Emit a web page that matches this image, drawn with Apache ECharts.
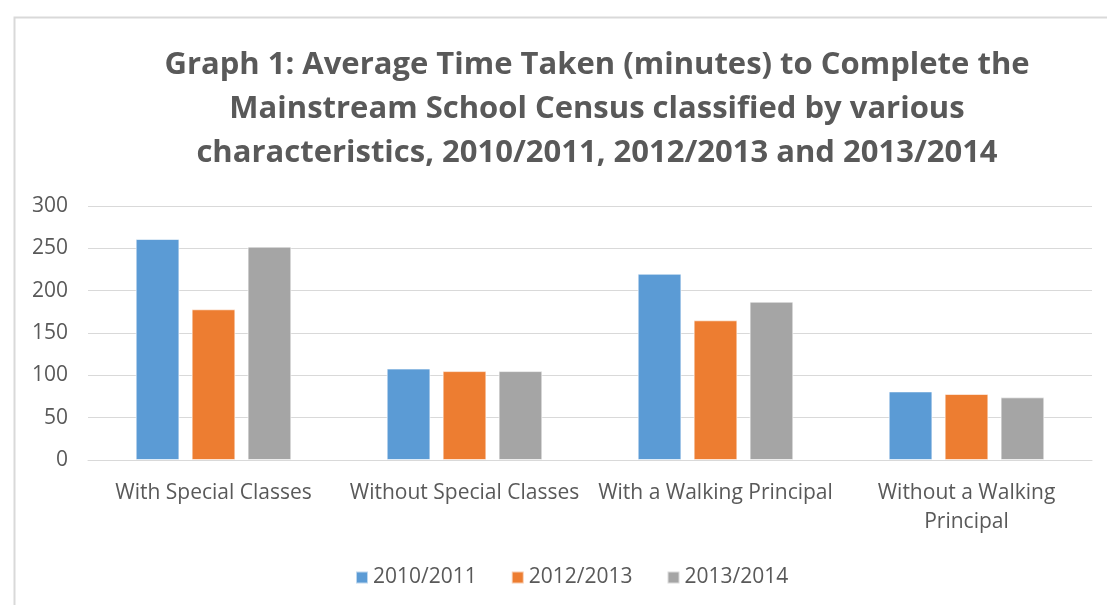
<!DOCTYPE html>
<html>
<head>
<meta charset="utf-8">
<script src="https://cdn.jsdelivr.net/npm/echarts@6/dist/echarts.min.js"></script>
<style>
html,body{margin:0;padding:0;background:#fff;}
#chart{width:1107px;height:605px;}
</style>
</head>
<body>
<div id="chart"></div>
<script>
var titleText = 'Graph 1: Average Time Taken (minutes) to Complete the\nMainstream School Census classified by various\ncharacteristics, 2010/2011, 2012/2013 and 2013/2014';
var categories = ['With Special Classes', 'Without Special Classes', 'With a Walking Principal', 'Without a Walking\nPrincipal'];
var seriesNames = ['2010/2011', '2012/2013', '2013/2014'];
var values2010 = [261, 108, 220, 81];
var values2012 = [178, 105, 165, 78];
var values2013 = [252, 105, 187, 74];
var yTicks = [0, 50, 100, 150, 200, 250, 300];
var colors = ['#5B9BD5', '#ED7D31', '#A5A5A5'];

var fontFam = '"Open Sans", sans-serif';
var chart = echarts.init(document.getElementById('chart'));
var allValues = [values2010, values2012, values2013];
chart.setOption({
  animation: false,
  color: colors,
  graphic: [{
    type: 'rect', left: 12, top: 15, silent: true,
    shape: {width: 1110, height: 610},
    style: {fill: 'none', stroke: '#D9D9D9', lineWidth: 2}
  }],
  title: {
    text: titleText,
    left: 592, textAlign: 'center', top: 38,
    textStyle: {fontFamily: fontFam, fontSize: 31, fontWeight: 'bold', color: '#595959', lineHeight: 44}
  },
  legend: {
    data: seriesNames,
    left: 350, top: 562,
    itemWidth: 12, itemHeight: 12, itemGap: 34,
    icon: 'rect',
    textStyle: {fontFamily: fontFam, fontSize: 21, color: '#595959'}
  },
  grid: {left: 88, right: 15, top: 206, bottom: 145},
  xAxis: {
    type: 'category',
    data: categories,
    axisLine: {show: true, lineStyle: {color: '#D9D9D9', width: 1}},
    axisTick: {show: false},
    axisLabel: {fontFamily: fontFam, fontSize: 21, color: '#595959', margin: 19, lineHeight: 29, interval: 0}
  },
  yAxis: {
    type: 'value', min: yTicks[0], max: yTicks[yTicks.length - 1], interval: 50,
    axisLine: {show: false},
    axisTick: {show: false},
    splitLine: {lineStyle: {color: '#D9D9D9', width: 1}},
    axisLabel: {fontFamily: fontFam, fontSize: 21, color: '#595959', margin: 20}
  },
  series: seriesNames.map(function (n, i) {
    return {
      name: n, type: 'bar', data: allValues[i],
      barGap: '28%', barCategoryGap: '38%',
      itemStyle: {color: colors[i], borderColor: 'rgba(255,255,255,0.6)', borderWidth: 1}
    };
  })
});
</script>
</body>
</html>
